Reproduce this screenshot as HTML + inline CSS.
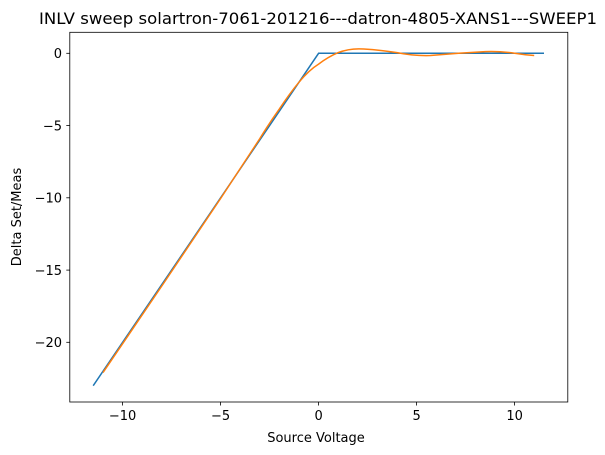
<!DOCTYPE html>
<html><head><meta charset="utf-8"><style>body{margin:0;background:#fff}svg{display:block}text{font-family:"DejaVu Sans","Liberation Sans",sans-serif;fill:#000}</style></head><body>
<svg width="605" height="455" xmlns="http://www.w3.org/2000/svg">
<rect width="605" height="455" fill="#fff"/>
<text x="318" y="24" font-size="16" text-anchor="middle" textLength="558" lengthAdjust="spacingAndGlyphs">INLV sweep solartron-7061-201216---datron-4805-XANS1---SWEEP1</text>
<polyline fill="none" stroke="#1f77b4" stroke-width="1.5" points="93.2,385.7 318.6,53.3 544,53.3"/>
<path fill="none" stroke="#ff7f0e" stroke-width="1.5" d="M103,372.6 L161.8,286 L220.6,198.5 L259.8,138.6 Q270,122 279.4,108.9 Q290,93 299,82.2 Q309,70 318.6,64.1 Q328,57 338.2,52.6 Q350,48 363.7,49 Q380,50 397,52.6 Q414,56 430.3,55.5 Q458,53 485.2,51.6 Q500,51 514.6,53.3 Q525,55 534.2,55.5"/>
<rect x="69.8" y="32.3" width="498" height="369.7" fill="none" stroke="#000" stroke-width="0.8"/>
<g stroke="#000" stroke-width="0.8">
<line x1="122.6" y1="402" x2="122.6" y2="405.5"/><line x1="220.6" y1="402" x2="220.6" y2="405.5"/><line x1="318.6" y1="402" x2="318.6" y2="405.5"/><line x1="416.6" y1="402" x2="416.6" y2="405.5"/><line x1="514.6" y1="402" x2="514.6" y2="405.5"/>
<line x1="66.3" y1="53.3" x2="69.8" y2="53.3"/><line x1="66.3" y1="125.6" x2="69.8" y2="125.6"/><line x1="66.3" y1="197.8" x2="69.8" y2="197.8"/><line x1="66.3" y1="270.1" x2="69.8" y2="270.1"/><line x1="66.3" y1="342.3" x2="69.8" y2="342.3"/>
</g>
<g font-size="13" text-anchor="middle">
<text x="122.6" y="420">−10</text><text x="220.6" y="420">−5</text><text x="318.6" y="420">0</text><text x="416.6" y="420">5</text><text x="514.6" y="420">10</text>
</g>
<g font-size="13" text-anchor="end">
<text x="62" y="58">0</text><text x="62" y="130.3">−5</text><text x="62" y="202.5">−10</text><text x="62" y="274.8">−15</text><text x="62" y="347">−20</text>
</g>
<text x="316" y="442" font-size="13" text-anchor="middle">Source Voltage</text>
<text transform="translate(21,217) rotate(-90)" font-size="13" text-anchor="middle">Delta Set/Meas</text>
</svg>
</body></html>
